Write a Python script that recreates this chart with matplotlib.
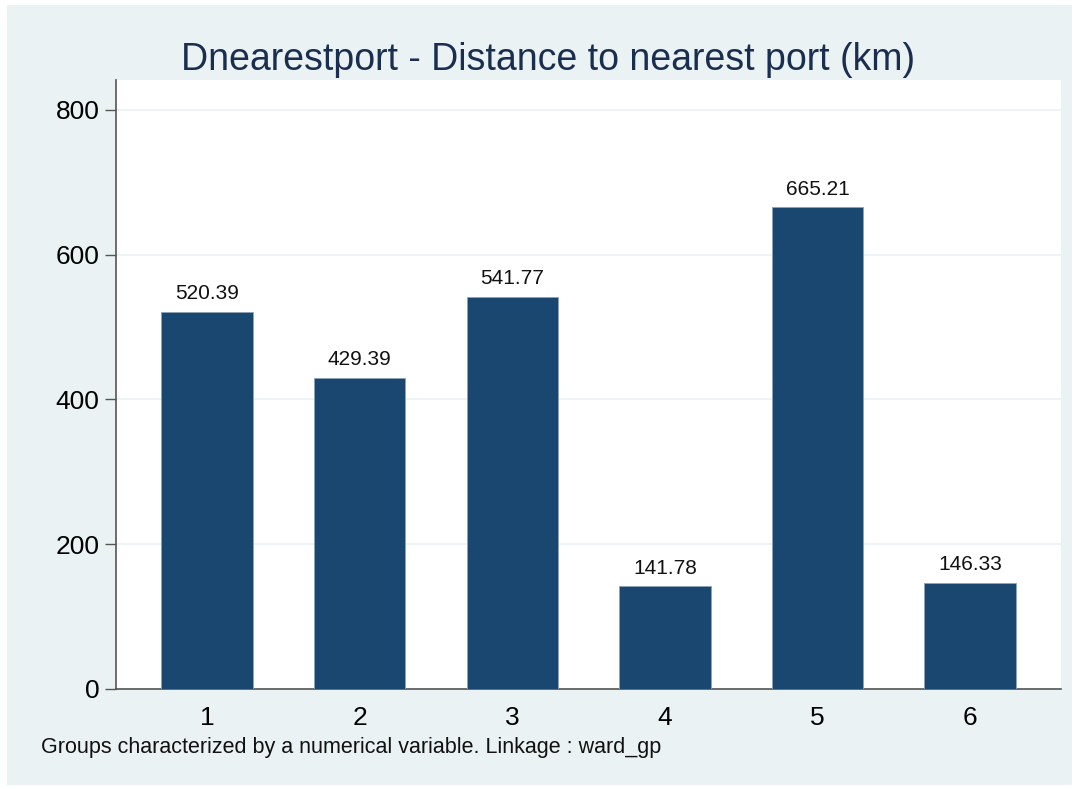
import matplotlib
matplotlib.use("Agg")
import matplotlib.pyplot as plt
from matplotlib.patches import Rectangle

categories = ["1", "2", "3", "4", "5", "6"]
values = [520.39, 429.39, 541.77, 141.78, 665.21, 146.33]
yticks = [0, 200, 400, 600, 800]

plt.rcParams['font.family'] = ['Liberation Sans', 'DejaVu Sans']

W, H = 1078, 789
fig = plt.figure(figsize=(W / 100, H / 100), dpi=100, facecolor="white")
bg = "#EAF2F3"
bgax = fig.add_axes([7 / W, 1 - 785 / H, (1072 - 7) / W, (785 - 5) / H])
bgax.set_facecolor(bg)
bgax.set_axis_off()
bgax.add_patch(Rectangle((0, 0), 1, 1, transform=bgax.transAxes, facecolor=bg, edgecolor="none"))
bgax.set_zorder(0)

ax = fig.add_axes([116 / W, 1 - 689 / H, (1061 - 116) / W, (689 - 80) / H])
ax.set_zorder(1)
ax.set_facecolor("white")
x = list(range(1, len(categories) + 1))
ax.bar(x, values, width=0.6, color="#1A476F", edgecolor="#8DA3B8", linewidth=0.6, zorder=3)
for xi, v in zip(x, values):
    ax.text(xi, v + 12, f"{v:.2f}", ha="center", va="bottom", fontsize=15, color="#111111", zorder=4)

ax.set_xlim(0.403, 6.596)
ax.set_ylim(0, 841)
ax.set_yticks(yticks)
ax.set_yticklabels([str(t) for t in yticks], fontsize=19)
ax.set_xticks(x)
ax.set_xticklabels(categories, fontsize=19)
ax.tick_params(axis="x", length=0, pad=12)
ax.tick_params(axis="y", length=8, width=1, color="#555555", pad=4)
ax.grid(axis="y", color=bg, linewidth=1.2, zorder=0)
for s in ["top", "right"]:
    ax.spines[s].set_visible(False)
for s in ["left", "bottom"]:
    ax.spines[s].set_color("#555555")
    ax.spines[s].set_linewidth(1.2)

fig.text(548 / W, 1 - 60 / H, "Dnearestport - Distance to nearest port (km)", ha="center", va="center",
         fontsize=27, color="#1A2F50", zorder=5)
fig.text(41 / W, 1 - 748 / H, "Groups characterized by a numerical variable. Linkage : ward_gp",
         ha="left", va="center", fontsize=15.5, color="#111111", zorder=5)

fig.savefig("out.png", dpi=100, facecolor="white")
